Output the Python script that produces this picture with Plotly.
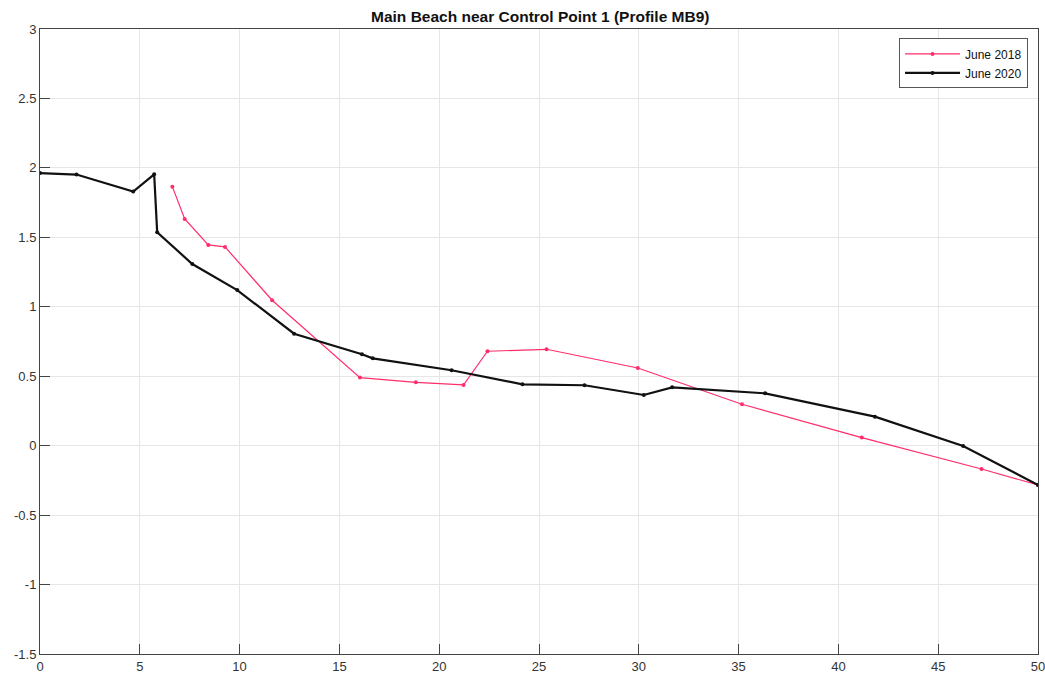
import plotly.graph_objects as go

x2018 = [6.63, 7.25, 8.43, 9.27, 11.63, 16.03, 18.83, 21.22, 22.42, 25.38, 29.95, 35.17, 41.17, 47.17, 50.0]
y2018 = [1.865, 1.632, 1.445, 1.431, 1.047, 0.49, 0.456, 0.437, 0.68, 0.694, 0.559, 0.298, 0.058, -0.168, -0.283]

x2020 = [0.0, 1.83, 4.67, 5.72, 5.87, 7.63, 9.88, 12.73, 16.13, 16.67, 20.62, 24.17, 27.28, 30.25, 31.67, 36.33, 41.83, 46.25, 50.0]
y2020 = [1.963, 1.952, 1.83, 1.954, 1.536, 1.308, 1.12, 0.806, 0.658, 0.629, 0.543, 0.442, 0.435, 0.365, 0.42, 0.377, 0.209, -0.002, -0.283]

xticks = [0, 5, 10, 15, 20, 25, 30, 35, 40, 45, 50]
yticks = [-1.5, -1, -0.5, 0, 0.5, 1, 1.5, 2, 2.5, 3]
ytick_labels = ["-1.5", "-1", "-0.5", "0", "0.5", "1", "1.5", "2", "2.5", "3"]

fig = go.Figure()
fig.add_trace(go.Scatter(x=x2018, y=y2018, mode="lines+markers", name="June 2018",
                         line=dict(color="#ff2d6a", width=1.2),
                         marker=dict(color="#ff2d6a", size=4)))
fig.add_trace(go.Scatter(x=x2020, y=y2020, mode="lines+markers", name="June 2020",
                         line=dict(color="#111111", width=2.2),
                         marker=dict(color="#111111", size=4)))

axis_common = dict(showgrid=True, gridcolor="#e6e6e6", gridwidth=1,
                   showline=True, linecolor="#444444", linewidth=1, mirror=True,
                   ticks="inside", ticklen=10, tickcolor="#444444", automargin=False,
                   ticklabeloverflow="allow",
                   zeroline=False, tickfont=dict(family="Liberation Sans, Arial", size=13, color="#333333"))

fig.update_xaxes(range=[0, 50], tickvals=xticks, ticktext=[str(v) for v in xticks], **axis_common)
fig.update_yaxes(range=[-1.5, 3], tickvals=yticks, ticktext=ytick_labels, **axis_common)

fig.update_layout(
    width=1045, height=682,
    margin=dict(l=40, r=7, t=29, b=28),
    paper_bgcolor="white", plot_bgcolor="white",
    title=dict(text="<b>Main Beach near Control Point 1 (Profile MB9)</b>",
               x=0.517, xanchor="center", y=0.975, yanchor="middle",
               font=dict(family="Liberation Sans, Arial", size=15.5, color="#111111")),
    legend=dict(x=0.99, y=0.985, xanchor="right", yanchor="top",
                bgcolor="white", bordercolor="#555555", borderwidth=1,
                font=dict(family="Liberation Sans, Arial", size=12, color="#111111"),
                tracegroupgap=0, itemwidth=55),
    showlegend=True,
)

fig.write_html("out.html",
               config={"displayModeBar": False},
               post_script="document.body.style.margin='0';document.body.style.overflow='hidden';")
